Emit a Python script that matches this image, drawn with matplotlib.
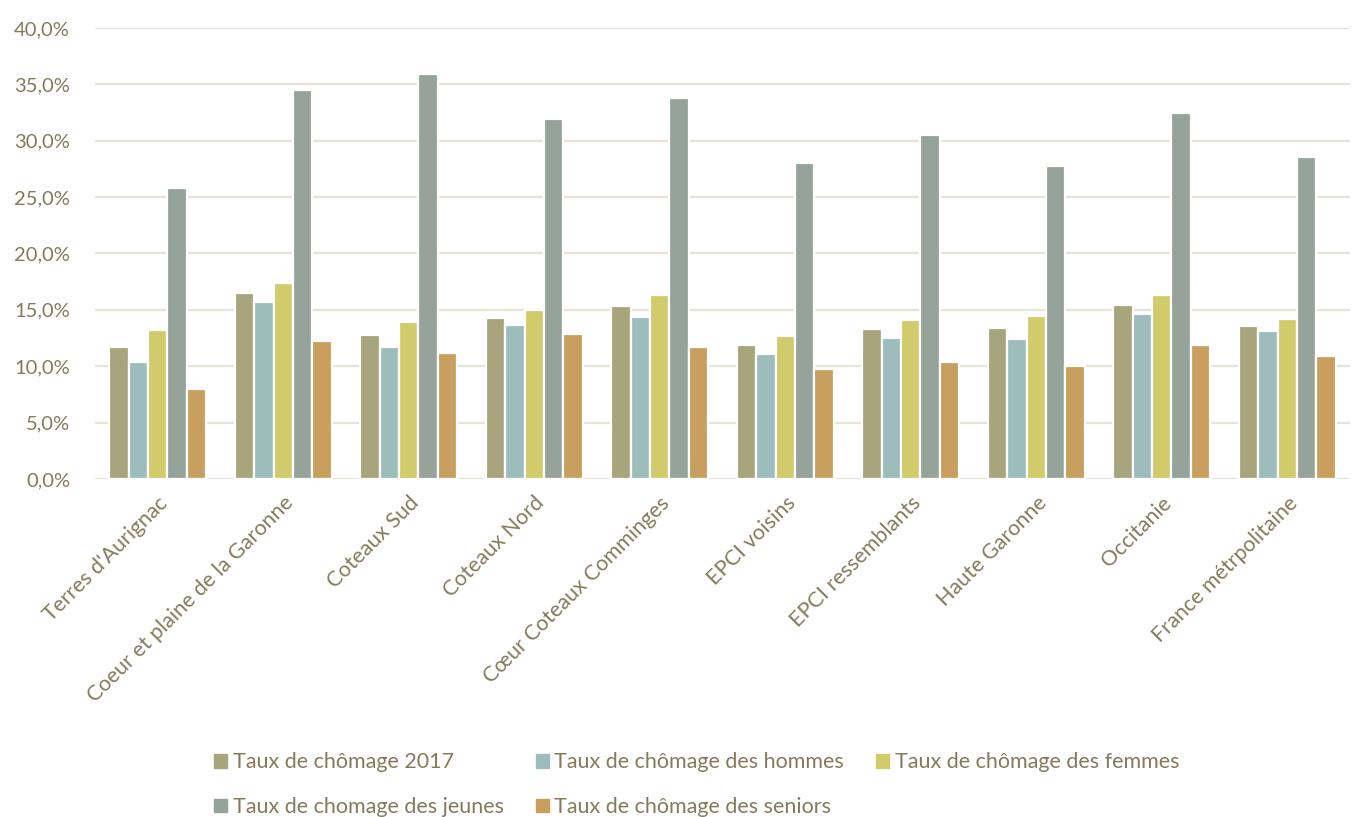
import numpy as np
import matplotlib.pyplot as plt
from matplotlib.ticker import MultipleLocator, FuncFormatter
from matplotlib.patches import Patch

categories = ["Terres d'Aurignac", "Coeur et plaine de la Garonne", "Coteaux Sud",
              "Coteaux Nord", "Cœur Coteaux Comminges", "EPCI voisins",
              "EPCI ressemblants", "Haute Garonne", "Occitanie", "France métrpolitaine"]

taux_2017 = [11.7, 16.5, 12.8, 14.3, 15.3, 11.9, 13.3, 13.4, 15.4, 13.6]
taux_hommes = [10.4, 15.7, 11.7, 13.7, 14.4, 11.1, 12.5, 12.4, 14.6, 13.1]
taux_femmes = [13.2, 17.4, 13.9, 15.0, 16.3, 12.7, 14.1, 14.5, 16.3, 14.2]
taux_jeunes = [25.8, 34.5, 35.9, 31.9, 33.8, 28.0, 30.5, 27.8, 32.5, 28.6]
taux_seniors = [8.0, 12.2, 11.2, 12.9, 11.7, 9.8, 10.4, 10.0, 11.9, 10.9]

series = [
    ("Taux de chômage 2017", taux_2017, "#A8A47C"),
    ("Taux de chômage des hommes", taux_hommes, "#9DBDBC"),
    ("Taux de chômage des femmes", taux_femmes, "#D2CB6C"),
    ("Taux de chomage des jeunes", taux_jeunes, "#95A39B"),
    ("Taux de chômage des seniors", taux_seniors, "#C89F5E"),
]

text_col = "#857A5C"
plt.rcParams['font.family'] = ['Lato', 'DejaVu Sans']

fig = plt.figure(figsize=(13.53, 8.17), dpi=100)
ax = fig.add_axes([95 / 1353, (817 - 479) / 817, 1255 / 1353, 451 / 817])

x = np.arange(len(categories))
slot = 0.155
for i, (name, vals, col) in enumerate(series):
    ax.bar(x + (i - 2) * slot, vals, width=slot, color=col,
           edgecolor="white", linewidth=1.6, zorder=3)

ax.set_xlim(-0.5, len(categories) - 0.5)
ax.set_ylim(0, 40)
ax.yaxis.set_major_locator(MultipleLocator(5))
ax.yaxis.set_major_formatter(FuncFormatter(lambda v, p: f"{v:.1f}%".replace(".", ",")))
ax.grid(axis="y", color="#E6E3D8", linewidth=1.6, zorder=0)
for s in ax.spines.values():
    s.set_visible(False)
ax.tick_params(axis="both", length=0, colors=text_col)
ax.tick_params(axis="y", pad=18, labelsize=14.5)
ax.tick_params(axis="x", pad=10, labelsize=15.5)
ax.set_xticks(x)
ax.set_xticklabels(categories, rotation=45, ha="right", rotation_mode="anchor")

# ordre pour remplir le legende ligne par ligne
handles = [Patch(color=c, label=n) for n, v, c in series]
handles = [handles[0], handles[3], handles[1], handles[4], handles[2]]
leg = fig.legend(handles=handles, loc="lower left", bbox_to_anchor=(195 / 1353, -0.024),
                 ncol=3, frameon=False, fontsize=15.5, handlelength=0.6, handleheight=0.6,
                 handletextpad=0.25, columnspacing=1.5, labelspacing=1.15)
for t in leg.get_texts():
    t.set_color(text_col)

fig.savefig("out.png", dpi=100)
